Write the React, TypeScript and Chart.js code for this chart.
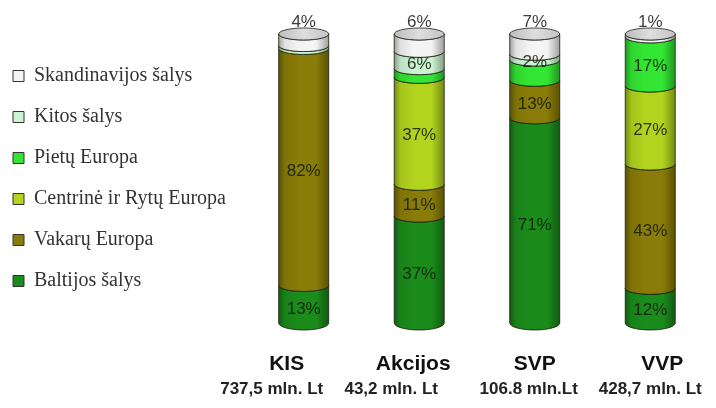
import { useEffect, useRef } from "react";
import { Chart, registerables } from "chart.js";

Chart.register(...registerables);

const categories = ["KIS", "Akcijos", "SVP", "VVP"];
const totals = ["737,5 mln. Lt", "43,2 mln. Lt", "106.8 mln.Lt", "428,7 mln. Lt"];
const seriesNames = [
  "Baltijos šalys",
  "Vakarų Europa",
  "Centrinė ir Rytų Europa",
  "Pietų Europa",
  "Kitos šalys",
  "Skandinavijos šalys",
];
const baltijos = [13, 37, 71, 12];
const vakaru = [82, 11, 13, 43];
const centrine = [0, 37, 0, 27];
const pietu = [0, 3, 7, 17];
const kitos = [1, 6, 2, 0];
const skandinavijos = [4, 6, 7, 1];
const seriesValues = [baltijos, vakaru, centrine, pietu, kitos, skandinavijos];
const colors = ["#1b8c1b", "#8a7c08", "#b2d41e", "#33e633", "#ccf4d4", "#f4f4f4"];
// segments whose value is not written on the picture
const unlabeled = [
  ["KIS", "Kitos šalys"],
  ["Akcijos", "Pietų Europa"],
  ["SVP", "Pietų Europa"],
];

function shade(hex: string, f: number) {
  const n = parseInt(hex.slice(1), 16);
  let r = (n >> 16) & 255, g = (n >> 8) & 255, b = n & 255;
  const t = f < 0 ? 0 : 255;
  const p = Math.abs(f);
  r = Math.round(r + (t - r) * p);
  g = Math.round(g + (t - g) * p);
  b = Math.round(b + (t - b) * p);
  return `rgb(${r},${g},${b})`;
}

const RY = 6;
const nameShift = [-17, -6, 0, 12];
const totalShift = [-32, -28, -6, 0];

const cylinderPlugin = {
  id: "cylinders",
  beforeDatasetsDraw(chart: any) {
    const ctx: CanvasRenderingContext2D = chart.ctx;
    const nCat = chart.data.labels.length;
    const nSer = chart.data.datasets.length;
    for (let c = 0; c < nCat; c++) {
      let top = Infinity;
      let cx = 0;
      let rx = 0;
      const labels: { text: string; x: number; y: number; top: boolean }[] = [];
      for (let d = 0; d < nSer; d++) {
        const v = chart.data.datasets[d].data[c];
        const el = chart.getDatasetMeta(d).data[c];
        const { x, y, base, width } = el.getProps(["x", "y", "base", "width"], true);
        cx = x;
        rx = width / 2;
        if (!v) continue;
        const l = x - width / 2;
        const r = x + width / 2;
        const ryB = d === 0 ? RY + 1 : RY;
        ctx.save();
        ctx.beginPath();
        ctx.moveTo(l, y);
        ctx.ellipse(x, y, rx, RY, 0, Math.PI, 0, true);
        ctx.lineTo(r, base);
        ctx.ellipse(x, base, rx, ryB, 0, 0, Math.PI, false);
        ctx.closePath();
        const col = colors[d];
        const g = ctx.createLinearGradient(l, 0, r, 0);
        g.addColorStop(0, shade(col, -0.35));
        g.addColorStop(0.12, shade(col, -0.08));
        g.addColorStop(0.4, col);
        g.addColorStop(0.75, col);
        g.addColorStop(1, shade(col, -0.35));
        ctx.fillStyle = g;
        ctx.fill();
        ctx.strokeStyle = "rgba(25,30,10,0.8)";
        ctx.lineWidth = 1;
        ctx.stroke();
        ctx.restore();
        top = Math.min(top, y);
        const skip = unlabeled.some(
          ([cat, ser]) => cat === chart.data.labels[c] && ser === chart.data.datasets[d].label
        );
        if (d === nSer - 1) {
          labels.push({ text: `${v}%`, x, y: 0, top: true });
        } else if (!skip) {
          labels.push({ text: `${v}%`, x, y: (y + base) / 2 + RY * 0.8, top: false });
        }
      }
      // top cap
      ctx.save();
      ctx.beginPath();
      ctx.ellipse(cx, top, rx, RY, 0, 0, Math.PI * 2);
      const cg = ctx.createLinearGradient(cx - rx, 0, cx + rx, 0);
      cg.addColorStop(0, "#bdbdbd");
      cg.addColorStop(0.5, "#dedede");
      cg.addColorStop(1, "#c4c4c4");
      ctx.fillStyle = cg;
      ctx.fill();
      ctx.strokeStyle = "rgba(40,40,40,0.85)";
      ctx.lineWidth = 1;
      ctx.stroke();
      ctx.restore();
      // value labels
      ctx.save();
      ctx.font = "17px 'Liberation Sans', Arial, sans-serif";
      ctx.textAlign = "center";
      for (const lb of labels) {
        if (lb.top) {
          ctx.textBaseline = "bottom";
          ctx.fillStyle = "rgba(45,45,45,0.92)";
          ctx.fillText(lb.text, lb.x, top - RY + 3);
        } else {
          ctx.textBaseline = "middle";
          ctx.fillStyle = "rgba(20,30,10,0.88)";
          ctx.fillText(lb.text, lb.x, lb.y);
        }
      }
      ctx.restore();
    }
    // category names and totals
    const xs = chart.scales.x;
    const bottom = chart.chartArea.bottom;
    ctx.save();
    ctx.textAlign = "center";
    ctx.textBaseline = "middle";
    for (let c = 0; c < nCat; c++) {
      const x = xs.getPixelForValue(c);
      ctx.fillStyle = "#111";
      ctx.font = "bold 21px 'Liberation Sans', Arial, sans-serif";
      ctx.fillText(chart.data.labels[c], x + nameShift[c], bottom + 41);
      ctx.fillStyle = "#222";
      ctx.font = "bold 17px 'Liberation Sans', Arial, sans-serif";
      ctx.fillText(totals[c], x + totalShift[c], bottom + 66);
    }
    ctx.restore();
    return false;
  },
};

export default function App() {
  const ref = useRef<HTMLCanvasElement>(null);
  useEffect(() => {
    const chart = new Chart(ref.current!, {
      type: "bar",
      data: {
        labels: categories,
        datasets: seriesNames.map((name, i) => ({
          label: name,
          data: seriesValues[i],
          backgroundColor: colors[i],
          borderColor: "#333",
          borderWidth: 1,
          barThickness: 50,
        })),
      },
      options: {
        responsive: false,
        animation: false,
        devicePixelRatio: 1,
        layout: { padding: { top: 34, bottom: 85, left: -8, right: 8 } },
        plugins: {
          tooltip: { enabled: false },
          legend: {
            position: "left",
            align: "center",
            reverse: true,
            maxWidth: 320,
            labels: {
              boxWidth: 11,
              boxHeight: 11,
              padding: 21,
              color: "#333",
              font: { family: "'Liberation Serif', 'Times New Roman', serif", size: 20 },
            },
          },
        },
        scales: {
          x: { stacked: true, display: false },
          y: {
            stacked: true,
            min: 0,
            max: 100,
            display: true,
            ticks: { display: false },
            grid: { display: false },
            border: { display: false },
            afterFit: (s: any) => {
              s.width = 10;
            },
          },
        },
      },
      plugins: [cylinderPlugin],
    });
    return () => chart.destroy();
  }, []);
  return (
    <div style={{ position: "fixed", left: 0, top: 0, width: 716, height: 408, background: "#fff" }}>
      <canvas ref={ref} width={716} height={408} style={{ display: "block", width: 716, height: 408 }} />
    </div>
  );
}
